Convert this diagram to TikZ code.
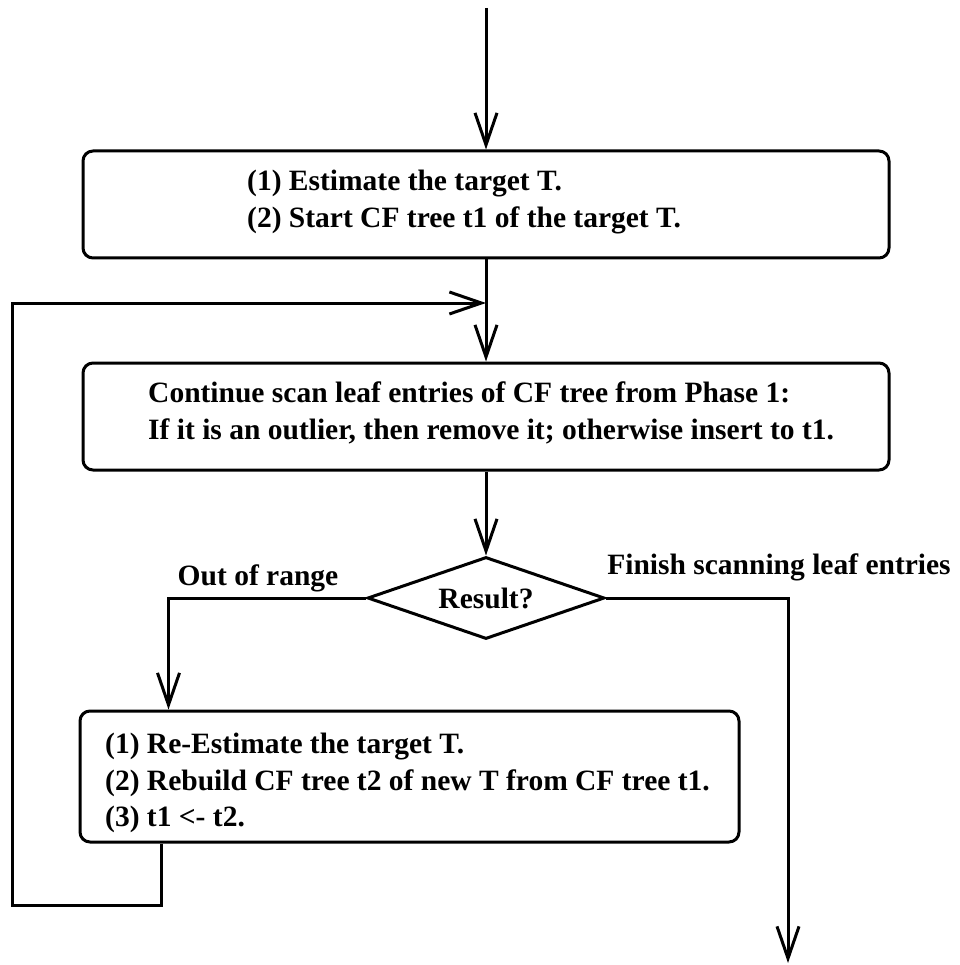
\documentclass[tikz,border=0pt]{standalone}
\usepackage{fontspec}
\setmainfont{Liberation Serif}
\usetikzlibrary{arrows.meta,shapes.geometric,calc}
\tikzset{
  box/.style={draw, line width=3pt, rounded corners=10pt, inner sep=0pt},
  txt/.style={inner sep=0pt, anchor=west, align=left, font=\fontsize{29.5}{36.5}\selectfont\bfseries},
  lbl/.style={inner sep=0pt, font=\fontsize{29.5}{36}\selectfont\bfseries},
  arr/.style={line width=3pt, -{Straight Barb[length=32pt,width=22pt,line width=3pt]}},
}
\begin{document}
\begin{tikzpicture}[x=1pt,y=-1pt]
\useasboundingbox (0,0) rectangle (959,965);
% boxes
\node[box, minimum width=806pt, minimum height=107pt] (b1) at (486,204.5) {};
\node[box, minimum width=806pt, minimum height=107pt] (b2) at (486,416.5) {};
\node[box, minimum width=659pt, minimum height=131pt] (b3) at (409.5,776.5) {};
\node[diamond, draw, line width=3pt, minimum width=237pt, minimum height=82pt, inner sep=0pt] (d) at (486,598) {};
% texts
\node[txt] (t1) at (247,202) {(1) Estimate the target T.\\(2) Start CF tree t1 of the target T.};
\node[txt] (t2) at (148,413) {Continue scan leaf entries of CF tree from Phase 1:\\If it is an outlier, then remove it; otherwise insert to t1.};
\node[txt] (t3) at (105,783) {(1) Re-Estimate the target T.\\(2) Rebuild CF tree t2 of new T from CF tree t1.\\(3) t1 <- t2.};
\node[lbl] (res) at (d) {Result?};
\node[lbl] (out) at (258,578) {Out of range};
\node[lbl] (fin) at (779,567) {Finish scanning leaf entries};
% coordinates
\coordinate (start) at (486,8);
\coordinate (j) at (486,303);
\coordinate (lb) at (12,905);
\coordinate (fin end) at (788,963);
% connectors
\draw[arr] (start) -- (b1.north);
\draw[arr] (b1.south) -- (b2.north);
\draw[arr] (b2.south) -- (d.north);
\draw[arr] (d.west) -| ($(b3.north west)+(90,0)$);
\draw[arr] (d.east) -| (fin end);
\draw[arr] ($(b3.south west)+(83,0)$) |- (lb) |- (j);
\end{tikzpicture}
\end{document}
